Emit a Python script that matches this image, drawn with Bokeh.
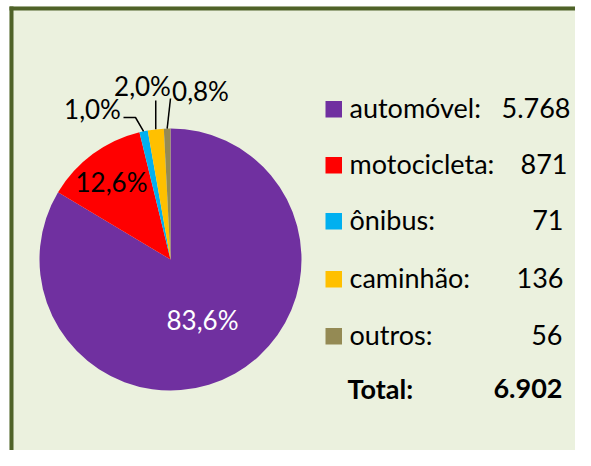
import numpy as np
from bokeh.plotting import figure
from bokeh.models import Range1d, ColumnDataSource
from bokeh.core.properties import value
from bokeh.embed import file_html
from bokeh.resources import INLINE

# ---- data ----
categories = ["automóvel", "motocicleta", "ônibus", "caminhão", "outros"]
counts = [5768, 871, 71, 136, 56]
pct_labels = ["83,6%", "12,6%", "1,0%", "2,0%", "0,8%"]
count_labels = ["5.768", "871", "71", "136", "56"]
total_label = "6.902"
colors = ["#7030A0", "#FF0000", "#00B0F0", "#FFC000", "#948A54"]

BG = "#EBF1DE"
BORDER = "#4F6228"
FONT = "Lato"
FS = "27px"
FS_PIE = "26px"
DY = 10  # baseline correction

W, H = 575, 450
p = figure(width=W, height=H, x_range=Range1d(0, W), y_range=Range1d(0, H),
           output_backend="svg", toolbar_location=None, min_border=0)
p.axis.visible = False
p.grid.visible = False
p.outline_line_color = None
p.background_fill_color = "white"
p.border_fill_color = "white"

# chart area and border (top/left visible; right/bottom cropped in original)
p.quad(left=[9], right=[W], bottom=[0], top=[444], fill_color=BG, line_color=None)
p.quad(left=[9], right=[13], bottom=[0], top=[444], fill_color=BORDER, line_color=None)
p.quad(left=[9], right=[W], bottom=[440], top=[444], fill_color=BORDER, line_color=None)

# ---- pie ----
cx, cy, r = 170, 191, 131
vals = np.array(counts, dtype=float)
frac = vals / vals.sum()
ends_cum = np.cumsum(frac)
starts_cum = ends_cum - frac
start_ang = np.pi / 2 - 2 * np.pi * starts_cum
end_ang = np.pi / 2 - 2 * np.pi * ends_cum
src = ColumnDataSource(dict(start=start_ang, end=end_ang, color=colors))
p.wedge(x=cx, y=cy, radius=r, start_angle="start", end_angle="end",
        direction="clock", fill_color="color", line_color=None, source=src)

mid = (start_ang + end_ang) / 2

# inner labels
p.text(x=[202], y=[121 + DY], text=[pct_labels[0]], text_color="white",
       text_font=value(FONT), text_font_size=FS_PIE, text_align="center",
       text_baseline="alphabetic")
p.text(x=[111], y=[259 + DY], text=[pct_labels[1]], text_color="black",
       text_font=value(FONT), text_font_size=FS_PIE, text_align="center",
       text_baseline="alphabetic")

# outer labels with leader lines
ex = cx + r * np.cos(mid)
ey = cy + r * np.sin(mid)
p.line(x=[ex[2], 135, 123], y=[ey[2], 333, 333], line_color="black", line_width=1.5)
p.line(x=[ex[3], ex[3]], y=[ey[3], 350], line_color="black", line_width=1.5)
p.line(x=[ex[4], 170], y=[ey[4], 352], line_color="black", line_width=1.5)

p.text(x=[92, 142, 200], y=[332 + DY, 355 + DY, 350 + DY], text=pct_labels[2:],
       text_color="black", text_font=value(FONT), text_font_size=FS_PIE,
       text_align="center", text_baseline="alphabetic")

# ---- legend table ----
base_y = [333, 277, 221, 163, 106]
val_x = [570, 567, 563, 563, 562]
sq = 16.5
p.quad(left=[325] * 5, right=[325 + sq] * 5, bottom=base_y,
       top=[b + sq for b in base_y], fill_color=colors, line_color=None)
p.text(x=[349] * 5, y=[b + DY for b in base_y], text=[c + ":" for c in categories],
       text_color="black", text_font=value(FONT), text_font_size=FS,
       text_align="left", text_baseline="alphabetic")
p.text(x=val_x, y=[b + DY for b in base_y], text=count_labels,
       text_color="black", text_font=value(FONT), text_font_size=FS,
       text_align="right", text_baseline="alphabetic")
p.text(x=[347], y=[52 + DY], text=["Total:"], text_color="black",
       text_font=value(FONT), text_font_size=FS, text_font_style="bold",
       text_align="left", text_baseline="alphabetic")
p.text(x=[562], y=[52 + DY], text=[total_label], text_color="black",
       text_font=value(FONT), text_font_size=FS, text_font_style="bold",
       text_align="right", text_baseline="alphabetic")

open("out.html", "w").write(file_html(p, INLINE))
